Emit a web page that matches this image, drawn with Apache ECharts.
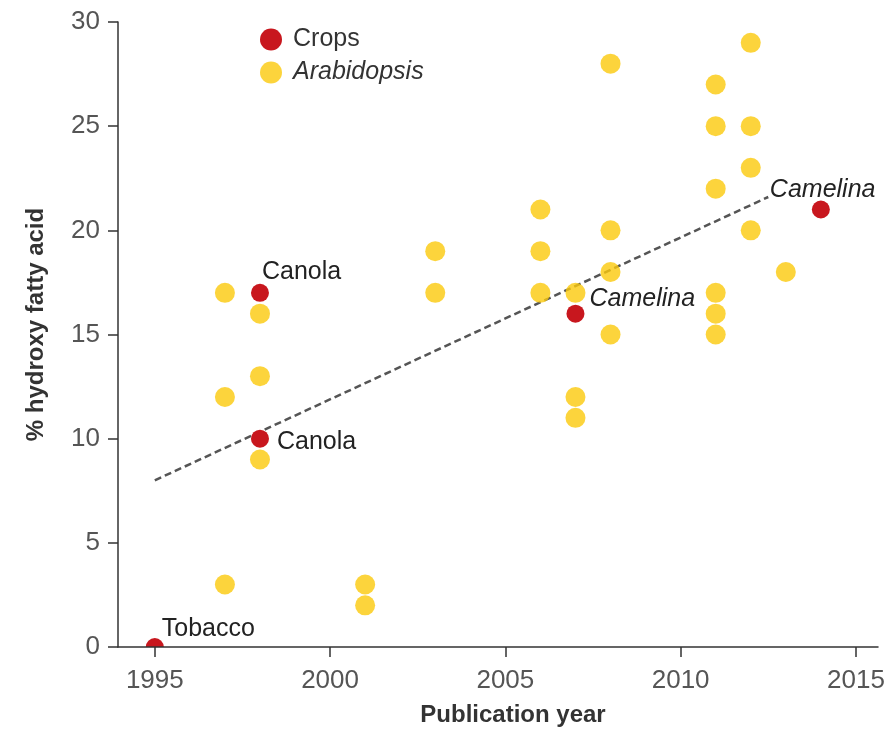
<!DOCTYPE html>
<html>
<head>
<meta charset="utf-8">
<title>Hydroxy fatty acid content by publication year</title>
<script src="https://cdn.jsdelivr.net/npm/echarts@6/dist/echarts.min.js"></script>
<style>
  html, body { margin: 0; padding: 0; background: #ffffff; }
  #chart { width: 888px; height: 736px; }
</style>
</head>
<body>
<div id="chart"></div>
<script>
// Crop species (red points)
const cropYears = [1995, 1998, 1998, 2007, 2014];
const cropValues = [0, 17, 10, 16, 21];
const cropNames = ['Tobacco', 'Canola', 'Canola', 'Camelina', 'Camelina'];

// Arabidopsis results (yellow points)
const arabYears = [
  1997, 1997, 1997,
  1998, 1998, 1998,
  2001, 2001,
  2003, 2003,
  2006, 2006, 2006,
  2007, 2007, 2007,
  2008, 2008, 2008, 2008,
  2011, 2011, 2011, 2011, 2011, 2011,
  2012, 2012, 2012, 2012,
  2013
];
const arabValues = [
  17, 12, 3,
  16, 13, 9,
  3, 2,
  19, 17,
  21, 19, 17,
  17, 12, 11,
  28, 20, 18, 15,
  27, 25, 22, 17, 16, 15,
  29, 25, 23, 20,
  18
];

// Linear trend endpoints
const trendYears = [1995, 2012.5];
const trendValues = [8, 21.6];

// Axis ticks
const yearTicks = [1995, 2000, 2005, 2010, 2015];

const RED = '#C8171E';
const YELLOW = '#FBC90B';
const FONT = '"Liberation Sans", Arial, sans-serif';

// Label placement for crop annotations, relative to the point (pixels)
const cropLabelStyle = [
  { dx: 7, dy: -18, italic: false },
  { dx: 2, dy: -21, italic: false },
  { dx: 17, dy: 3, italic: false },
  { dx: 14, dy: -15, italic: true },
  { dx: -51, dy: -19, italic: true }
];

const zip = (xs, ys) => xs.map((x, i) => [x, ys[i]]);

const chart = echarts.init(document.getElementById('chart'), null, { renderer: 'canvas' });

chart.setOption({
  animation: false,
  color: [RED, YELLOW],
  grid: { left: 118, right: 10, top: 22, bottom: 89, containLabel: false },
  legend: {
    orient: 'vertical',
    left: 255,
    top: 22,
    itemWidth: 22,
    itemHeight: 22,
    itemGap: 8,
    icon: 'circle',
    selectedMode: false,
    data: ['Crops', 'Arabidopsis'],
    formatter: (name) => name === 'Arabidopsis' ? '{i|' + name + '}' : name,
    textStyle: {
      fontFamily: FONT,
      fontSize: 25,
      color: '#333',
      lineHeight: 22,
      padding: [0, 0, 0, 6],
      rich: { i: { fontFamily: FONT, fontSize: 25, fontStyle: 'italic', color: '#333', lineHeight: 22 } }
    }
  },
  xAxis: {
    type: 'value',
    min: 1993.95,
    max: 2015.63,
    z: 3,
    name: 'Publication year',
    nameLocation: 'middle',
    nameGap: 56,
    nameTextStyle: {
      fontFamily: FONT, fontSize: 24, fontWeight: 'bold', color: '#333',
      padding: [0, 0, 0, 30]
    },
    axisLine: { show: true, lineStyle: { color: '#333', width: 1.5 } },
    axisTick: { show: true, length: 10, customValues: yearTicks, lineStyle: { color: '#333', width: 1.5 } },
    axisLabel: {
      customValues: yearTicks,
      margin: 21,
      fontFamily: FONT, fontSize: 26, color: '#555',
      formatter: (v) => String(v)
    },
    splitLine: { show: false }
  },
  yAxis: {
    type: 'value',
    min: 0,
    max: 30,
    interval: 5,
    name: '% hydroxy fatty acid',
    nameLocation: 'middle',
    nameGap: 70,
    nameTextStyle: {
      fontFamily: FONT, fontSize: 24, fontWeight: 'bold', color: '#333',
      padding: [0, 0, 0, 20]
    },
    axisLine: { show: true, lineStyle: { color: '#333', width: 1.5 } },
    axisTick: { show: true, length: 10, lineStyle: { color: '#333', width: 1.5 } },
    axisLabel: { margin: 18, fontFamily: FONT, fontSize: 26, color: '#555' },
    splitLine: { show: false }
  },
  series: [
    {
      name: 'Trend',
      type: 'line',
      data: zip(trendYears, trendValues),
      symbol: 'none',
      silent: true,
      lineStyle: { color: '#555', width: 2.5, type: [7, 4] },
      z: 1
    },
    {
      name: 'Arabidopsis',
      type: 'scatter',
      data: zip(arabYears, arabValues),
      symbol: 'circle',
      symbolSize: 20,
      itemStyle: { color: YELLOW },
      z: 2
    },
    {
      name: 'Crops',
      type: 'custom',
      clip: true,
      z: 2,
      itemStyle: { color: RED },
      data: zip(cropYears, cropValues),
      renderItem: (params, api) => {
        const p = api.coord([api.value(0), api.value(1)]);
        const s = cropLabelStyle[params.dataIndex];
        return {
          type: 'group',
          children: [
            { type: 'circle', shape: { cx: p[0], cy: p[1], r: 9 }, style: { fill: RED } },
            {
              type: 'text',
              x: p[0] + s.dx,
              y: p[1] + s.dy,
              style: {
                text: cropNames[params.dataIndex],
                fill: '#222',
                font: (s.italic ? 'italic ' : '') + '25px ' + FONT,
                align: 'left',
                verticalAlign: 'middle'
              }
            }
          ]
        };
      }
    }
  ]
});
</script>
</body>
</html>
